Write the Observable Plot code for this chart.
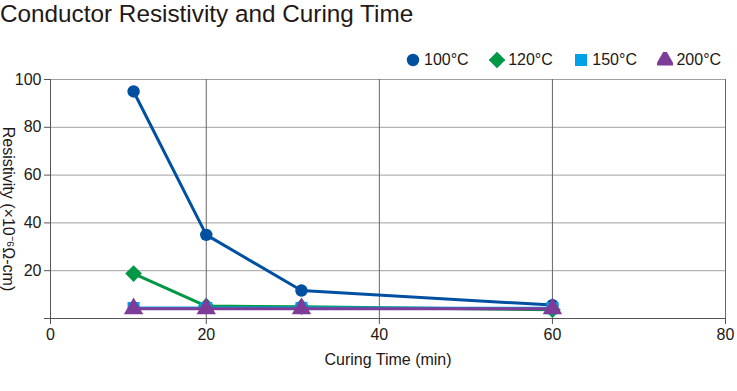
<!DOCTYPE html>
<html><head><meta charset="utf-8">
<script src="https://cdn.jsdelivr.net/npm/d3@7"></script>
<script src="https://cdn.jsdelivr.net/npm/@observablehq/plot@0.6"></script>
<style>
body{margin:0;background:#fff;font-family:"Liberation Sans",Arial,Helvetica,sans-serif;color:#231815;}
#wrap{position:relative;width:737px;height:391px;overflow:hidden;}
#title{height:40px;font-size:24.3px;line-height:28px;padding-left:0;white-space:nowrap;}
#legend{position:absolute;top:51px;left:405px;display:flex;align-items:center;font-size:16px;}
#legend .item{display:flex;align-items:center;margin-right:20.5px;}
#legend svg{margin-right:3px;}
</style></head>
<body><div id="wrap"><div id="title">Conductor Resistivity and Curing Time</div><div id="legend"></div><div id="chart"></div></div>
<script>
const series = ["100°C", "120°C", "150°C", "200°C"];
const colors = ["#0050a2", "#009844", "#00a0e9", "#7d3c98"];
const symbols = ["circle", "diamond2", "square", "triangle"];
const times = [11.6, 20, 31, 60];
const r100 = [95, 35, 11.7, 5.6];
const r120 = [18.8, 5.2, 4.9, 3.7];
const r150 = [4.4, 4.4, 4.4, 4.3];
const r200 = [4.1, 4.1, 4.1, 4.1];
const xTicks = [0, 20, 40, 60, 80];
const yTicks = [0, 20, 40, 60, 80, 100];

const values = [r100, r120, r150, r200];
const data = series.flatMap((s, i) => times.map((t, j) => ({series: s, time: t, value: values[i][j]})));
const xStart = 2; // visual left edge of the x axis
const dotR = {"100°C": 6.2, "120°C": 7.5, "150°C": 6.8, "200°C": 7.2};

const marks = [
  Plot.gridY(yTicks.slice(1), {stroke: "#a0a0a0", strokeOpacity: 1}),
  Plot.gridX(xTicks.slice(1), {stroke: "#666", strokeOpacity: 1}),
  Plot.axisY(yTicks, {tickSize: 6, tickPadding: 3, fontSize: 16, stroke: "#555", fill: "#231815",
    tickFormat: d => d === 0 ? "" : d, label: null}),
  Plot.axisX(xTicks.map(d => d === 0 ? xStart : d), {tickSize: 6, tickPadding: 4, fontSize: 16, stroke: "#555", fill: "#231815",
    tickFormat: d => d === xStart ? "0" : d, label: null}),
  Plot.ruleX([xStart], {stroke: "#555"}),
  Plot.ruleY([0], {stroke: "#555"}),
  Plot.text(["Curing Time (min)"], {frameAnchor: "bottom", dy: 46, fontSize: 16, fill: "#231815"}),
  Plot.text(["Resistivity (×10⁻⁶Ω-cm)"], {frameAnchor: "left", textAnchor: "middle", rotate: 90, dx: -42, dy: 10, fontSize: 16, fill: "#231815"})
];
series.forEach((s, i) => {
  const d = data.filter(e => e.series === s);
  marks.push(Plot.line(d, {x: "time", y: "value", stroke: colors[i], strokeWidth: 3}));
  marks.push(Plot.dot(d, {x: "time", y: "value", fill: colors[i], symbol: () => symbols[i], r: dotR[s], stroke: "none"}));
});

const chart = Plot.plot({
  width: 737, height: 351,
  marginTop: 39, marginBottom: 73, marginLeft: 50, marginRight: 12,
  style: {fontFamily: "'Liberation Sans', Arial, Helvetica, sans-serif", fontSize: "16px", color: "#231815"},
  x: {domain: [xStart, 80], axis: null},
  y: {domain: [0, 100], axis: null},
  symbol: {type: "identity"},
  marks
});
document.getElementById("chart").appendChild(chart);

const legend = document.getElementById("legend");
const symMap = {circle: d3.symbolCircle, diamond2: d3.symbolDiamond2, square: d3.symbolSquare, triangle: d3.symbolTriangle};
series.forEach((s, i) => {
  const item = document.createElement("div");
  item.className = "item";
  const sym = d3.symbol(symMap[symbols[i]], Math.PI * dotR[s] * dotR[s])();
  item.innerHTML = `<svg width="16" height="16" viewBox="-8 -8 16 16"><path d="${sym}" fill="${colors[i]}"/></svg><span>${s}</span>`;
  legend.appendChild(item);
});
</script></body></html>
